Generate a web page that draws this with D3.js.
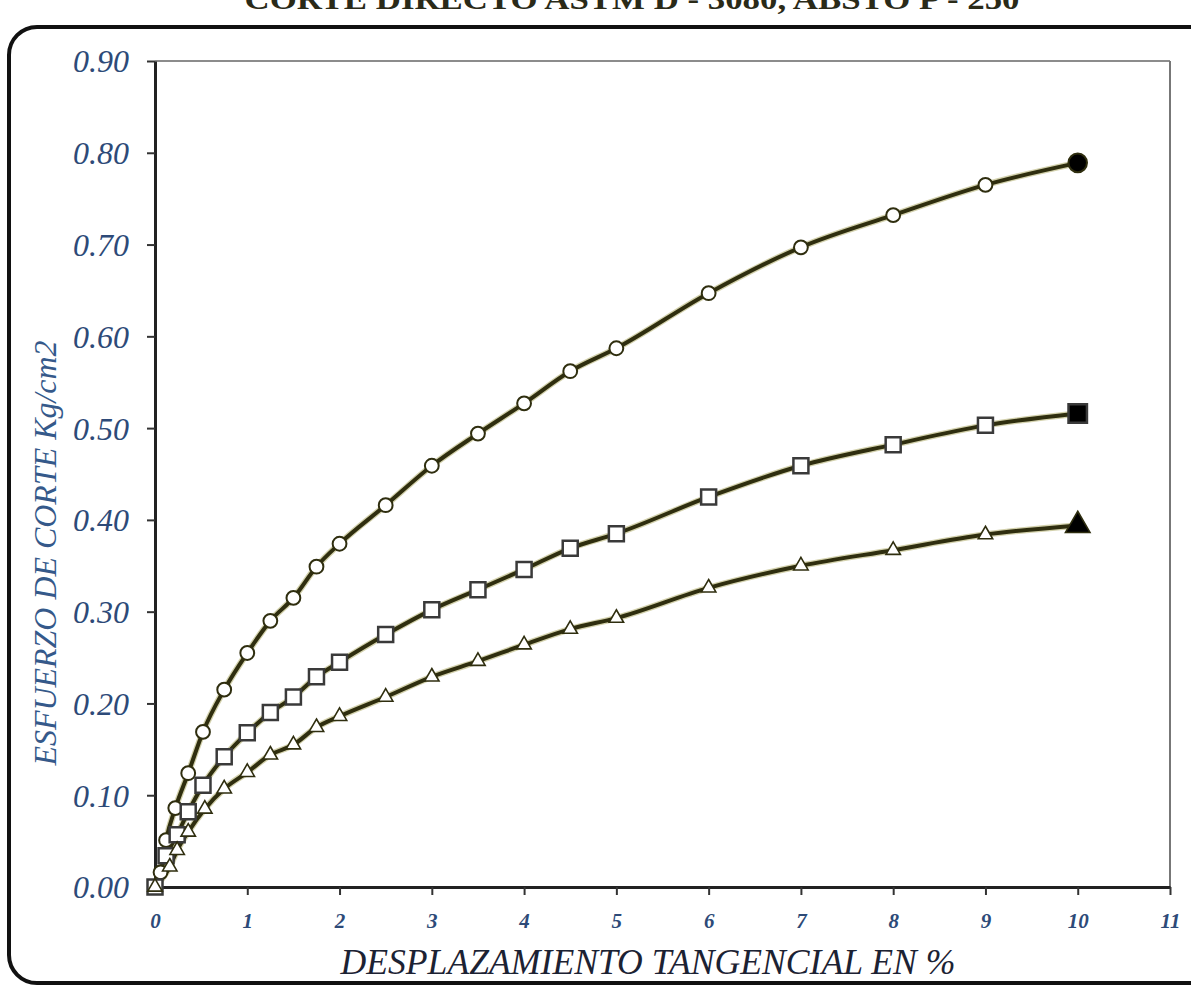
<!DOCTYPE html>
<html lang="en">
<head>
<meta charset="utf-8">
<title>corte directo</title>
<script type="text/javascript" src="https://cdn.jsdelivr.net/npm/d3@7"></script>
<style>
body { margin: 0; background: #fff; }
</style>
</head>
<body>
<script type="text/javascript">
var w = 1191;
var h = 987;

// data
var circleX = [0, 0.06, 0.12, 0.22, 0.36, 0.52, 0.75, 1, 1.25, 1.5, 1.75, 2, 2.5, 3, 3.5, 4, 4.5, 5, 6, 7, 8, 9, 10];
var circleY = [0, 0.016, 0.051, 0.086, 0.124, 0.169, 0.215, 0.255, 0.29, 0.315, 0.349, 0.374, 0.416, 0.459, 0.494, 0.527, 0.562, 0.587, 0.647, 0.697, 0.732, 0.765, 0.789];

var squareX = [0, 0.12, 0.24, 0.36, 0.52, 0.75, 1, 1.25, 1.5, 1.75, 2, 2.5, 3, 3.5, 4, 4.5, 5, 6, 7, 8, 9, 10];
var squareY = [0, 0.034, 0.057, 0.082, 0.111, 0.142, 0.168, 0.19, 0.207, 0.229, 0.245, 0.275, 0.302, 0.324, 0.346, 0.369, 0.385, 0.425, 0.459, 0.482, 0.503, 0.516];

var triangleX = [0, 0.16, 0.24, 0.36, 0.54, 0.75, 1, 1.25, 1.5, 1.75, 2, 2.5, 3, 3.5, 4, 4.5, 5, 6, 7, 8, 9, 10];
var triangleY = [0, 0.022, 0.04, 0.06, 0.085, 0.107, 0.125, 0.144, 0.155, 0.174, 0.186, 0.207, 0.229, 0.246, 0.264, 0.281, 0.293, 0.326, 0.35, 0.367, 0.384, 0.394];

var xTicks = [0, 1, 2, 3, 4, 5, 6, 7, 8, 9, 10, 11];
var yTicks = [0, 0.1, 0.2, 0.3, 0.4, 0.5, 0.6, 0.7, 0.8, 0.9];

var titleText = "CORTE DIRECTO ASTM D - 3080, ABSTO P - 250";
var xLabel = "DESPLAZAMIENTO TANGENCIAL EN %";
var yLabel = "ESFUERZO DE CORTE Kg/cm2";

var lineColor = "#2f2e0f";
var tickColor = "#2d4a78";

var xScale = d3.scaleLinear().domain([0, 11]).range([155, 1170]);
var yScale = d3.scaleLinear().domain([0, 0.9]).range([887, 61]);

var svg = d3.select("body")
  .append("svg")
  .attr("width", w)
  .attr("height", h);

// outer rounded frame
svg.append("rect")
  .attr("x", 9)
  .attr("y", 27)
  .attr("width", 1220)
  .attr("height", 956)
  .attr("rx", 28)
  .attr("fill", "none")
  .attr("stroke", "#111")
  .attr("stroke-width", 4);

// title, only its lower part shows at the top edge (as in the source)
svg.append("text")
  .attr("x", 632)
  .attr("y", 9)
  .attr("text-anchor", "middle")
  .attr("font-family", "Liberation Serif")
  .attr("font-weight", "bold")
  .attr("font-size", "30px")
  .attr("fill", "#2a2a18")
  .attr("textLength", 775)
  .attr("lengthAdjust", "spacingAndGlyphs")
  .text(titleText);

// plot box: top and right in grey
svg.append("line")
  .attr("x1", xScale(0)).attr("x2", xScale(11))
  .attr("y1", yScale(0.9)).attr("y2", yScale(0.9))
  .attr("stroke", "#666").attr("stroke-width", 1.5);
svg.append("line")
  .attr("x1", xScale(11)).attr("x2", xScale(11))
  .attr("y1", yScale(0.9)).attr("y2", yScale(0))
  .attr("stroke", "#777").attr("stroke-width", 2);

var xAxis = d3.axisBottom(xScale)
  .tickValues(xTicks)
  .tickSize(8)
  .tickSizeOuter(0)
  .tickFormat(d3.format("d"));
var yAxis = d3.axisLeft(yScale)
  .tickValues(yTicks)
  .tickSize(8)
  .tickSizeOuter(0)
  .tickFormat(d3.format(".2f"));

var gx = svg.append("g")
  .attr("transform", "translate(0," + yScale(0) + ")")
  .call(xAxis);
gx.select(".domain").attr("stroke", "#222").attr("stroke-width", 3);
gx.selectAll(".tick line").attr("stroke", "#333").attr("stroke-width", 2);
gx.selectAll(".tick text")
  .attr("y", 26)
  .attr("font-family", "Liberation Serif")
  .attr("font-style", "italic")
  .attr("font-weight", "bold")
  .attr("font-size", "21px")
  .attr("fill", tickColor);

var gy = svg.append("g")
  .attr("transform", "translate(" + xScale(0) + ",0)")
  .call(yAxis);
gy.select(".domain").attr("stroke", "#222").attr("stroke-width", 3);
gy.selectAll(".tick line").attr("stroke", "#333").attr("stroke-width", 2);
gy.selectAll(".tick text")
  .attr("x", -26)
  .attr("dy", "0.34em")
  .attr("font-family", "Liberation Serif")
  .attr("font-style", "italic")
  .attr("font-size", "32px")
  .attr("fill", tickColor);

// axis titles
svg.append("text")
  .attr("x", 648)
  .attr("y", 974)
  .attr("text-anchor", "middle")
  .attr("font-family", "Liberation Serif")
  .attr("font-style", "italic")
  .attr("font-size", "36px")
  .attr("fill", "#1c2233")
  .attr("textLength", 615)
  .attr("lengthAdjust", "spacingAndGlyphs")
  .text(xLabel);

svg.append("text")
  .attr("transform", "translate(56,553) rotate(-90)")
  .attr("text-anchor", "middle")
  .attr("font-family", "Liberation Serif")
  .attr("font-style", "italic")
  .attr("font-size", "31px")
  .attr("fill", "#35598a")
  .attr("textLength", 425)
  .attr("lengthAdjust", "spacingAndGlyphs")
  .text(yLabel);

var series = [
  { xs: circleX, ys: circleY, shape: "circle" },
  { xs: squareX, ys: squareY, shape: "square" },
  { xs: triangleX, ys: triangleY, shape: "triangle" }
];

var line = d3.line()
  .x(function (d) { return xScale(d.x); })
  .y(function (d) { return yScale(d.y); })
  .curve(d3.curveMonotoneX);

series.forEach(function (s) {
  s.points = s.xs.map(function (x, i) { return { x: x, y: s.ys[i] }; });
});

// lines first, so markers sit on top
series.forEach(function (s) {
  svg.append("path")
    .datum(s.points)
    .attr("d", line)
    .attr("fill", "none")
    .attr("stroke", "#a8a45a")
    .attr("stroke-opacity", 0.5)
    .attr("stroke-width", 6.5);
  svg.append("path")
    .datum(s.points)
    .attr("d", line)
    .attr("fill", "none")
    .attr("stroke", lineColor)
    .attr("stroke-width", 4);
});

var symCircle = d3.symbol().type(d3.symbolCircle);
var symSquare = d3.symbol().type(d3.symbolSquare);
var symTriangle = d3.symbol().type(d3.symbolTriangle);

series.forEach(function (s) {
  var n = s.points.length;
  svg.append("g")
    .selectAll("path")
    .data(s.points)
    .enter()
    .append("path")
    .attr("transform", function (d) {
      return "translate(" + xScale(d.x) + "," + yScale(d.y) + ")";
    })
    .attr("d", function (d, i) {
      var last = i === n - 1;
      if (s.shape === "circle") return symCircle.size(last ? 270 : 150)();
      if (s.shape === "square") return symSquare.size(last ? 340 : 225)();
      return symTriangle.size(last ? 260 : 90)();
    })
    .attr("fill", function (d, i) { return i === n - 1 ? "#000" : "#fff"; })
    .attr("stroke", function () {
      if (s.shape === "square") return "#3a3a3a";
      return lineColor;
    })
    .attr("stroke-width", function () {
      if (s.shape === "square") return 2.5;
      if (s.shape === "triangle") return 1.6;
      return 2;
    });
});
</script>
</body>
</html>
